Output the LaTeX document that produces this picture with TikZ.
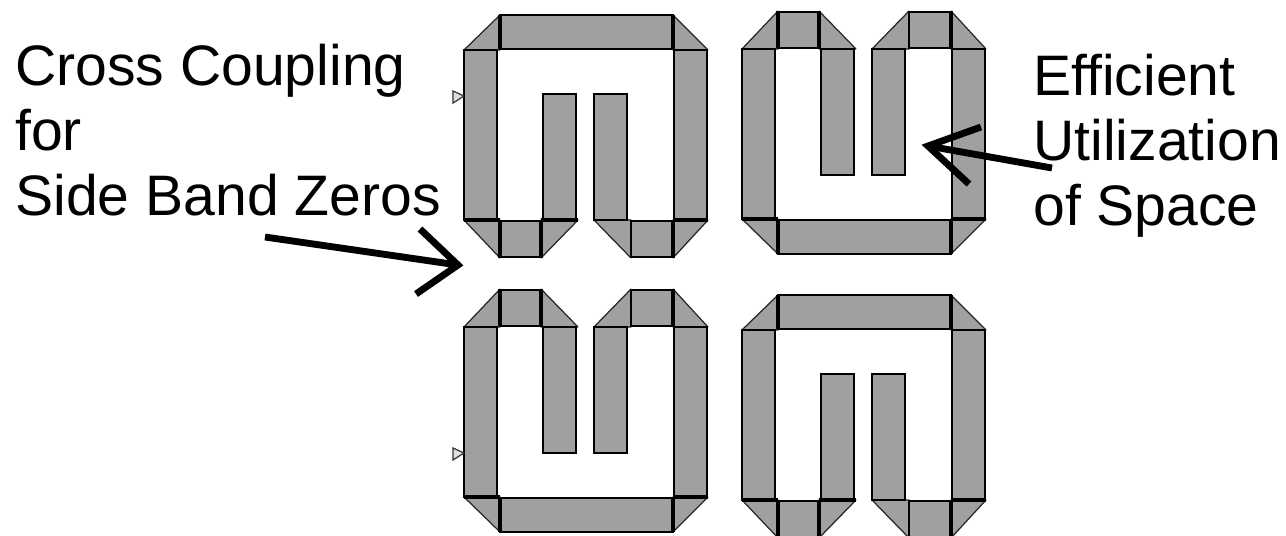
\documentclass[tikz,border=0pt]{standalone}
\usepackage{fontspec}
\setmainfont{Liberation Sans}

\definecolor{stripgray}{HTML}{A0A0A0}
\tikzset{
  strip/.style={draw=black,fill=stripgray,line width=1.3pt,line join=miter},
  corner/.style={draw=black!85,fill=stripgray,line width=0.7pt,line join=bevel},
  joint/.style={draw=black,line width=2.8pt},
  hand/.style={draw=black,line width=3.9pt,line join=miter},
  port/.style={draw=black!80,fill=black!12,line width=0.7pt},
  caption/.style={align=left,anchor=north west,inner sep=0pt,font=\fontsize{32.5}{36.9}\selectfont}
}

% one resonator, drawn with the wide side up
\newcommand{\ringbody}{
  \draw[corner] (464,50) -- (500,15) -- (500,50) -- cycle;
  \draw[corner] (673,15) -- (708,50) -- (673,50) -- cycle;
  \draw[corner] (464,220) -- (500,258) -- (500,220) -- cycle;
  \draw[corner] (541,258) -- (578,220) -- (541,220) -- cycle;
  \draw[corner] (594,220) -- (631,258) -- (631,220) -- cycle;
  \draw[corner] (673,258) -- (708,220) -- (673,220) -- cycle;

  \draw[strip] (464,50) rectangle (497,220);
  \draw[strip] (500,15) rectangle (673,49);
  \draw[strip] (674,50) rectangle (707,220);
  \draw[strip] (543,94) rectangle (576,220);
  \draw[strip] (594,94) rectangle (627,220);
  \draw[strip] (500,221) rectangle (541,257);
  \draw[strip] (631,221) rectangle (673,257);

  \draw[joint] (500,15) -- (500,49);
  \draw[joint] (673,15) -- (673,49);
  \draw[joint] (500,221) -- (500,258);
  \draw[joint] (541,221) -- (541,258);
  \draw[joint] (673,221) -- (673,258);
}
\newcommand{\ringup}[2]{
  \begin{scope}[shift={(#1,#2)}]
    \ringbody
    \draw[joint] (464,220) -- (500,220);
    \draw[joint] (541,220) -- (578,220);
    \draw[joint] (673,220) -- (708,220);
  \end{scope}
}
\newcommand{\ringdown}[2]{
  \begin{scope}[shift={(#1,#2)},yscale=-1]
    \ringbody
    \draw[joint] (464,50) -- (500,50);
    \draw[joint] (673,50) -- (708,50);
  \end{scope}
}

\begin{document}
\begin{tikzpicture}[x=0.02cm,y=-0.02cm]

\useasboundingbox (0,0) rectangle (1286,535);
\clip (0,0) rectangle (1286,535);
\fill[white] (0,0) rectangle (1286,535);

\ringup{0}{0}
\ringdown{278}{269}
\ringdown{0}{547}
\ringup{278}{280}

\draw[port] (453,91) -- (464,96) -- (453,103) -- cycle;
\draw[port] (453,448) -- (464,453) -- (453,460) -- cycle;

\node[caption] (cross) at (15,44) {Cross Coupling\\for\\Side Band Zeros};
\node[caption] (space) at (1033,54) {Efficient\\Utilization\\of Space};

\coordinate (crosstail) at (265,237);
\coordinate (crosstip) at (458,265);
\coordinate (crosstop) at (420,229);
\coordinate (crossbot) at (416,294);
\draw[hand] (crosstail) -- (crosstip);
\draw[hand] (crosstop) -- (crosstip) -- (crossbot);

\coordinate (spacetail) at (1052,168);
\coordinate (spacetip) at (928,146);
\coordinate (spacetop) at (981,127);
\coordinate (spacebot) at (969,184);
\draw[hand] (spacetail) -- (spacetip);
\draw[hand] (spacetop) -- (spacetip) -- (spacebot);

\end{tikzpicture}
\end{document}
